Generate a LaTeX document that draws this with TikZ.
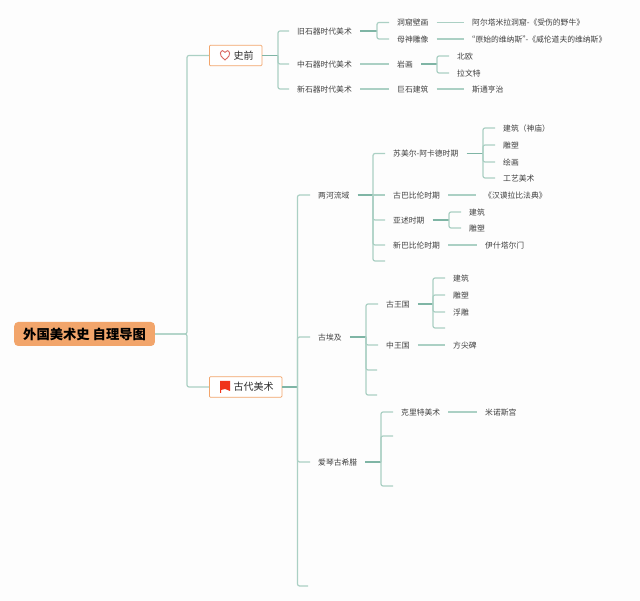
\documentclass[tikz,border=0pt]{standalone}
\usepackage{fontspec}
\setmainfont{Noto Sans CJK SC}
\usetikzlibrary{positioning,calc}
\definecolor{paper}{HTML}{FDFDFD}
\definecolor{ink}{HTML}{404040}
\definecolor{stem}{HTML}{ABD0C4}
\definecolor{feed}{HTML}{7FB5A5}
\definecolor{edge}{HTML}{F2A56B}
\definecolor{heart}{HTML}{D9655F}
\definecolor{flag}{HTML}{F0341A}
\tikzset{
  rootnode/.style={fill=edge, rounded corners=4pt, anchor=west, inner xsep=9pt, inner ysep=0pt, minimum height=24pt, font=\fontsize{13.3}{16}\selectfont\bfseries, text=black},
  boxnode/.style={draw=edge, fill=white, rounded corners=1pt, line width=.8pt, anchor=west, inner xsep=8pt, inner ysep=0pt, minimum height=20.5pt, font=\fontsize{10}{12}\selectfont, text=ink!70!black},
  itemnode/.style={anchor=west, inner xsep=8pt, inner ysep=0pt, text height=7.2pt, text depth=1pt, font=\fontsize{7.8}{9}\selectfont, text=ink},
  link/.style={stem, line width=1.2pt, rounded corners=2pt},
  feedlink/.style={feed, line width=1.2pt},
}
\begin{document}
\begin{tikzpicture}[x = 1pt, y = -1pt]
\useasboundingbox[fill=paper] (0,0) rectangle (640,601);

% root and main branches
\node[rootnode] (root) at (14,334) {外国美术史 自理导图};
\node[boxnode, minimum width=52.5pt] (shiqian) at (209,55.5) {\hspace*{16pt}史前};
\node[boxnode, minimum width=72.5pt] (gudai) at (209,387) {\hspace*{16pt}古代美术};
\coordinate (troot) at (187,334);
\draw[link] (root.east) -- (troot) |- (shiqian.west);
\draw[link] (root.east) -- (troot) |- (gudai.west);

% heart and flag
\draw[heart, line width=.9pt]
  (225,60) .. controls (221,56.5) and (220,55) .. (220.4,53)
  .. controls (221,50) and (224,50) .. (225,52.3)
  .. controls (226,50) and (229,50) .. (229.6,53)
  .. controls (230,55) and (229,56.5) .. (225,60) -- cycle;
\fill[flag] (220,381) -- (230,381) -- (230,391) -- (225,389) -- (221,390) -- (221,393) -- (220,393) -- cycle;

% shiqian
\node[itemnode] (jiu) at (289,31) {旧石器时代美术};
\node[itemnode] (zhong) at (289,64) {中石器时代美术};
\node[itemnode] (xin) at (289,89) {新石器时代美术};
\coordinate (tshi) at (278,55.5);
\draw[feedlink] (shiqian.east) -- (tshi);
\draw[link] (tshi) |- (jiu.west);
\draw[link] (tshi) |- (zhong.west);
\draw[link] (tshi) |- (xin.west);

\node[itemnode] (dongku) at (389,22.5) {洞窟壁画};
\node[itemnode] (mushen) at (389,39) {母神雕像};
\node[itemnode] (altamira) at (464,22.5) {阿尔塔米拉洞窟-《受伤的野牛》};
\node[itemnode] (venus) at (464,39) {\hspace*{-4.5pt}“原始的维纳斯”\hspace*{-4.5pt}-《威伦道夫的维纳斯》};
\coordinate (tjiu) at (377,31);
\draw[feedlink] (jiu.east) -- (tjiu);
\draw[link] (tjiu) |- (dongku.west);
\draw[link] (tjiu) |- (mushen.west);
\draw[link] (dongku.east) -- (altamira.west);
\draw[link] (mushen.east) -- (venus.west);

\node[itemnode] (yanhua) at (389,64) {岩画};
\node[itemnode] (beiou) at (449,56) {北欧};
\node[itemnode] (lawente) at (449,73) {拉文特};
\coordinate (tyan) at (437,64);
\draw[link] (zhong.east) -- (yanhua.west);
\draw[feedlink] (yanhua.east) -- (tyan);
\draw[link] (tyan) |- (beiou.west);
\draw[link] (tyan) |- (lawente.west);

\node[itemnode] (jushi) at (389,89) {巨石建筑};
\node[itemnode] (stone) at (464,89) {斯通亨治};
\draw[link] (xin.east) -- (jushi.west);
\draw[link] (jushi.east) -- (stone.west);

% gudai
\node[itemnode] (lianghe) at (310,195) {两河流域};
\node[itemnode] (aiji) at (310,337) {古埃及};
\node[itemnode] (aiqin) at (310,462) {爱琴古希腊};
\coordinate (egu) at (308,586);
\coordinate (tgu) at (297.5,387);
\draw[feedlink] (gudai.east) -- (tgu);
\draw[link] (tgu) |- (lianghe.west);
\draw[link] (tgu) |- (aiji.west);
\draw[link] (tgu) |- (aiqin.west);
\draw[link] (tgu) |- (egu);

% lianghe
\node[itemnode] (sumeier) at (385,153.5) {苏美尔-阿卡德时期};
\node[itemnode] (gubabi) at (385,195) {古巴比伦时期};
\node[itemnode] (yashu) at (385,220) {亚述时期};
\node[itemnode] (xinbabi) at (385,245) {新巴比伦时期};
\coordinate (elh) at (385,261);
\coordinate (tlh) at (373,195);
\draw[feedlink] (lianghe.east) -- (tlh);
\draw[link] (tlh) |- (sumeier.west);
\draw[link] (tlh) -- (gubabi.west);
\draw[link] (tlh) |- (yashu.west);
\draw[link] (tlh) |- (xinbabi.west);
\draw[link] (tlh) |- (elh);

\node[itemnode] (su1) at (495,128) {建筑（神庙）};
\node[itemnode] (su2) at (495,145) {雕塑};
\node[itemnode] (su3) at (495,162) {绘画};
\node[itemnode] (su4) at (495,178) {工艺美术};
\coordinate (tsu) at (483,153.5);
\draw[feedlink] (sumeier.east) -- (tsu);
\draw[link] (tsu) |- (su1.west);
\draw[link] (tsu) |- (su2.west);
\draw[link] (tsu) |- (su3.west);
\draw[link] (tsu) |- (su4.west);

\node[itemnode] (fadian) at (476,195) {《汉谟拉比法典》};
\draw[link] (gubabi.east) -- (fadian.west);

\node[itemnode] (ya1) at (461,212) {建筑};
\node[itemnode] (ya2) at (461,228) {雕塑};
\coordinate (tya) at (449,220);
\draw[feedlink] (yashu.east) -- (tya);
\draw[link] (tya) |- (ya1.west);
\draw[link] (tya) |- (ya2.west);

\node[itemnode] (yishi) at (477,245) {伊什塔尔门};
\draw[link] (xinbabi.east) -- (yishi.west);

% aiji
\node[itemnode] (guwang) at (378,304) {古王国};
\node[itemnode] (zhongwang) at (378,345) {中王国};
\coordinate (eai1) at (377,370);
\coordinate (eai2) at (377,395);
\coordinate (tai) at (366,337);
\draw[feedlink] (aiji.east) -- (tai);
\draw[link] (tai) |- (guwang.west);
\draw[link] (tai) |- (zhongwang.west);
\draw[link] (tai) |- (eai1);
\draw[link] (tai) |- (eai2);

\node[itemnode] (gw1) at (445,278) {建筑};
\node[itemnode] (gw2) at (445,295) {雕塑};
\node[itemnode] (gw3) at (445,312) {浮雕};
\coordinate (egw) at (445,328);
\coordinate (tgw) at (433,304);
\draw[feedlink] (guwang.east) -- (tgw);
\draw[link] (tgw) |- (gw1.west);
\draw[link] (tgw) |- (gw2.west);
\draw[link] (tgw) |- (gw3.west);
\draw[link] (tgw) |- (egw);

\node[itemnode] (fangjian) at (445,345) {方尖碑};
\draw[link] (zhongwang.east) -- (fangjian.west);

% aiqin
\node[itemnode] (kelite) at (393,412) {克里特美术};
\coordinate (eaq1) at (393,436);
\coordinate (eaq2) at (393,486);
\coordinate (taq) at (381,462);
\draw[feedlink] (aiqin.east) -- (taq);
\draw[link] (taq) |- (kelite.west);
\draw[link] (taq) |- (eaq1);
\draw[link] (taq) |- (eaq2);

\node[itemnode] (minuo) at (477,412) {米诺斯宫};
\draw[link] (kelite.east) -- (minuo.west);

\end{tikzpicture}
\end{document}
